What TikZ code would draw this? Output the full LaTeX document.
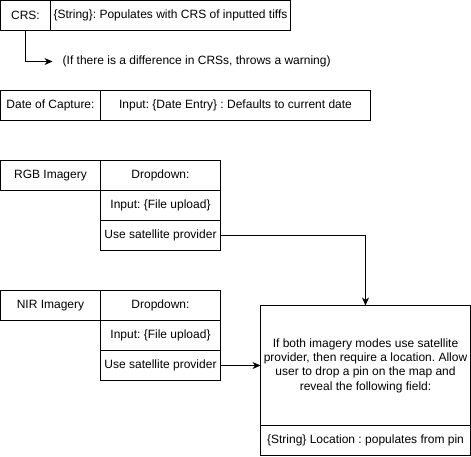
\documentclass[tikz,border=0pt]{standalone}
\usepackage{fontspec}
\setmainfont{Liberation Sans}
\usepackage{tikz}
\usetikzlibrary{positioning,arrows.meta}
\frenchspacing

\begin{document}
\begin{tikzpicture}[x=1pt, y=-1pt,
    cell/.style={draw, line width=1pt, outer sep=0pt, inner sep=0pt, anchor=north west,
      minimum height=30, font=\fontsize{12}{14.4}\selectfont},
    flow/.style={line width=1pt, -{Stealth[length=8pt,width=7pt,inset=2.5pt]}}]
      \useasboundingbox (-0.5,-0.5) rectangle (470.5,455.5);
      \node[cell, minimum width=50] (crslabel) at (0,0) {CRS:};
      \node[cell, minimum width=240] (crsvalue) at (crslabel.north east) {\{String\}: Populates with CRS of inputted tiffs};
      \node[font=\fontsize{12}{14.4}\selectfont, anchor=west, inner xsep=10pt, inner ysep=0pt] (crsnote) at (52,61)
        {(If there is a difference in CRSs, throws a warning)};
      \draw[flow] (crslabel.south) |- (crsnote.west);

      \node[cell, minimum width=100] (datelabel) at (0,90) {Date of Capture:};
      \node[cell, minimum width=270] (datevalue) at (datelabel.north east) {Input: \{Date Entry\} : Defaults to current date};

      \node[cell, minimum width=100] (rgblabel) at (0,160) {RGB Imagery};
      \node[cell, minimum width=120] (rgbdrop) at (rgblabel.north east) {Dropdown:};
      \node[cell, minimum width=120, anchor=north, below=0pt of rgbdrop] (rgbinput) {Input: \{File upload\}};
      \node[cell, minimum width=120, anchor=north, below=0pt of rgbinput] (rgbsat) {Use satellite provider};

      \node[cell, minimum width=100] (nirlabel) at (0,290) {NIR Imagery};
      \node[cell, minimum width=120] (nirdrop) at (nirlabel.north east) {Dropdown:};
      \node[cell, minimum width=120, anchor=north, below=0pt of nirdrop] (nirinput) {Input: \{File upload\}};
      \node[cell, minimum width=120, anchor=north, below=0pt of nirinput] (nirsat) {Use satellite provider};

      \node[cell, minimum width=210, minimum height=120, align=center] (locbox) at (260,305)
        {If both imagery modes use satellite\\provider, then require a location. Allow\\user to drop a pin on the map and\\reveal the following field:};
      \node[cell, minimum width=210, anchor=north, below=0pt of locbox] (locfield) {\{String\} Location : populates from pin};

      \draw[flow] (rgbsat.east) -| (locbox.north);
      \draw[flow] (nirsat.east) -- (locbox.west);
  \end{tikzpicture}
\end{document}
